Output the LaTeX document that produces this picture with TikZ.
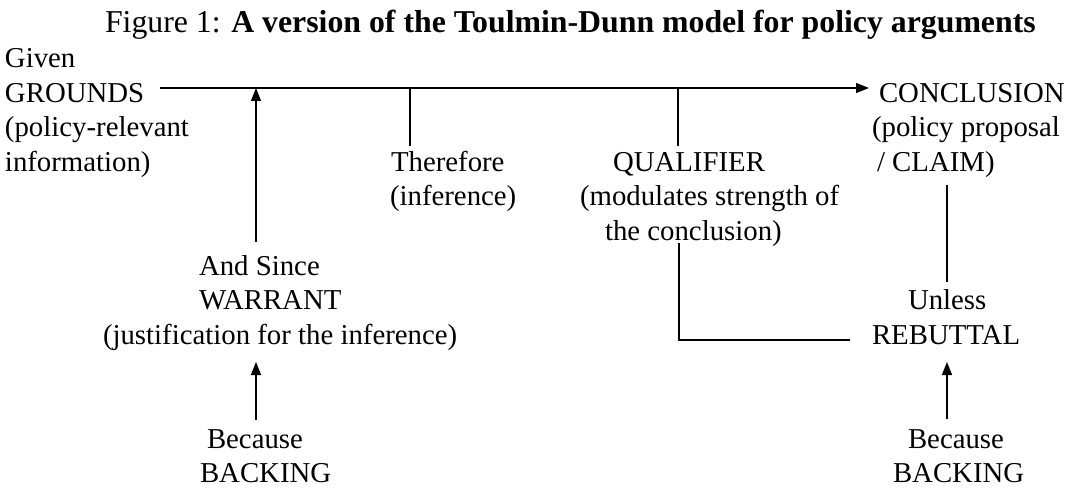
\documentclass[tikz,border=0pt]{standalone}
\usepackage{fontspec}
\setmainfont{Liberation Serif}
\usetikzlibrary{arrows.meta}
\begin{document}
\begin{tikzpicture}[x=1pt,y=-1pt,
  lbl/.style={anchor=base west, inner sep=0pt, outer sep=0pt, font=\fontsize{28.8}{34.6}\selectfont},
  ttl/.style={anchor=base west, inner sep=0pt, outer sep=0pt, font=\fontsize{31.8}{36}\selectfont},
  conn/.style={line width=1.4pt, draw=black},
  arr/.style={conn, -{Triangle[length=13pt,width=10pt]}}
]
\useasboundingbox (0,0) rectangle (1071,489);
\node[ttl] (title) at (105,33) {Figure 1: \textbf{A version of the Toulmin-Dunn model for policy arguments}};
% grounds
\node[lbl] (given) at (5,67.6) {Given};
\node[lbl] (grounds) at (5,102.2) {GROUNDS};
\node[lbl] (polrel) at (5,136.8) {(policy-relevant};
\node[lbl] (info) at (5,171.4) {information)};
% therefore
\node[lbl] (therefore) at (391,171.4) {Therefore};
\node[lbl] (inference) at (390,206) {(inference)};
% qualifier
\node[lbl] (qualifier) at (613,171.4) {QUALIFIER};
\node[lbl] (modulates) at (580,206) {(modulates strength of};
\node[lbl] (theconc) at (605,240.6) {the conclusion)};
% conclusion
\node[lbl] (conclusion) at (879,102.2) {CONCLUSION};
\node[lbl] (proposal) at (872,136.8) {(policy proposal};
\node[lbl] (claim) at (877,171.4) {/ CLAIM)};
% warrant
\node[lbl] (andsince) at (199,275.2) {And Since};
\node[lbl] (warrant) at (199,309.8) {WARRANT};
\node[lbl] (justif) at (103,344.4) {(justification for the inference)};
% rebuttal
\node[lbl] (unless) at (908,309.8) {Unless};
\node[lbl] (rebuttal) at (872,344.4) {REBUTTAL};
% backings
\node[lbl] (becauseL) at (207,448.2) {Because};
\node[lbl] (backingL) at (200,482.8) {BACKING};
\node[lbl] (becauseR) at (908,448.2) {Because};
\node[lbl] (backingR) at (893,482.8) {BACKING};
% connector end points
\coordinate (mstart) at (160,88);
\coordinate (mtip) at (869,88);
\coordinate (wtop) at (256,88);
\coordinate (wbot) at (256,242);
\coordinate (ttop) at (410,88);
\coordinate (tbot) at (410,146);
\coordinate (qtop) at (678,88);
\coordinate (qbot) at (678,146);
\coordinate (qrtop) at (679,243);
\coordinate (qrend) at (850,340);
\coordinate (crtop) at (947,185);
\coordinate (crbot) at (947,282);
\coordinate (brtip) at (947,362);
\coordinate (brbot) at (947,419);
\coordinate (bltip) at (256,362);
\coordinate (blbot) at (256,420);
% connectors
\draw[arr] (mstart) -- (mtip);
\draw[arr] (wbot) -- (wtop);
\draw[conn] (ttop) -- (tbot);
\draw[conn] (qtop) -- (qbot);
\draw[conn] (qrtop) |- (qrend);
\draw[conn] (crtop) -- (crbot);
\draw[arr] (brbot) -- (brtip);
\draw[arr] (blbot) -- (bltip);
\end{tikzpicture}
\end{document}
